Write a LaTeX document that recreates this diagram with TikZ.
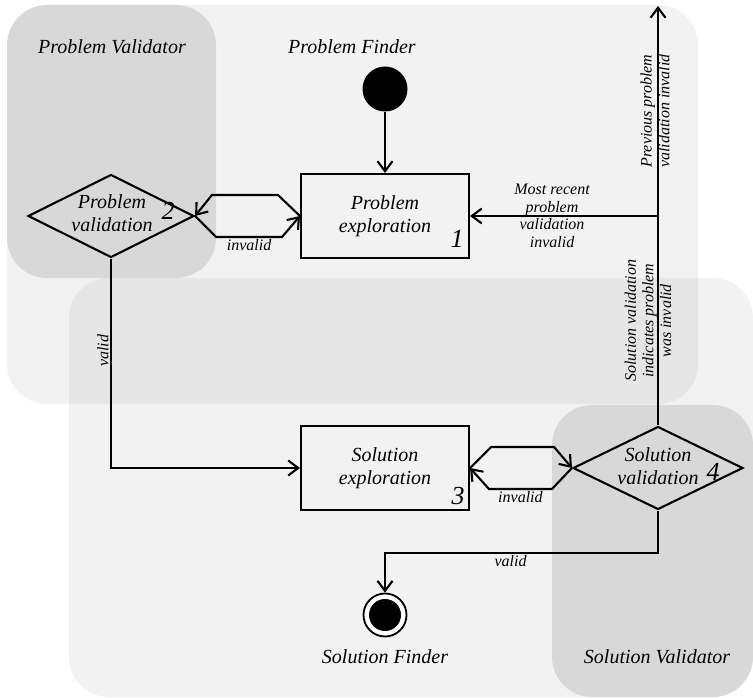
\documentclass[tikz,border=0pt]{standalone}
\usepackage{fontspec}
\setmainfont{Liberation Serif}[ItalicFont={Liberation Serif Italic}]
\usetikzlibrary{arrows.meta,shapes.geometric,calc}
\begin{document}
\begin{tikzpicture}[x=1pt,y=-1pt,
  lane/.style={fill=black, fill opacity=0.05, rounded corners=40pt},
  checker/.style={fill=black, fill opacity=0.105, rounded corners=40pt},
  flow/.style={line width=2.1pt, -{Straight Barb[length=10pt,width=15pt,line width=2.1pt]}},
  activity/.style={draw, line width=2.1pt, minimum width=168pt, minimum height=84pt, inner sep=0pt,
    font=\fontsize{20}{23}\selectfont\itshape, align=center},
  decision/.style={diamond, draw, line width=2.1pt, minimum height=83pt, inner sep=0pt},
  maintext/.style={font=\fontsize{20}{23}\selectfont\itshape, align=center, inner sep=0pt},
  lanetitle/.style={font=\fontsize{20}{23}\selectfont\itshape, inner sep=0pt},
  guard/.style={font=\fontsize{16}{17.6}\selectfont\itshape, align=center, inner sep=1.5pt},
  stepno/.style={font=\fontsize{26}{26}\selectfont\itshape, inner sep=0pt}
]
\useasboundingbox (0,0) rectangle (753,698);

% swimlane backgrounds
\fill[lane] (7,5) rectangle (698,404);
\fill[lane] (69,278) rectangle (753,697);
\fill[checker] (7,5) rectangle (216,278);
\fill[checker] (552,405) rectangle (753,697);

% lane titles
\node[lanetitle] (t-pv) at (112,47) {Problem Validator};
\node[lanetitle] (t-pf) at (352,47) {Problem Finder};
\node[lanetitle] (t-sf) at (385,657) {Solution Finder};
\node[lanetitle] (t-sv) at (657,657) {Solution Validator};

% initial and final states
\node[circle, fill=black, minimum size=45pt, inner sep=0pt] (start) at (385,89) {};
\node[circle, draw, fill=white, line width=1.8pt, minimum size=43pt, inner sep=0pt] (end) at (385,615) {};
\node[circle, fill=black, minimum size=32pt, inner sep=0pt] (endcore) at (end) {};

% activities
\node[activity] (pe) at (385,216) {Problem\\exploration};
\node[stepno] (pe-no) at (457,239) {1};
\node[activity] (se) at (385,468) {Solution\\exploration};
\node[stepno] (se-no) at (458,496) {3};

% decisions
\node[decision, minimum width=166pt] (pv) at (111,216) {};
\node[maintext] (pv-text) at (112,213) {Problem\\validation};
\node[stepno] (pv-no) at (168,211) {2};
\node[decision, minimum width=170pt] (sv) at (658,468) {};
\node[maintext] (sv-text) at (658,466) {Solution\\validation};
\node[stepno] (sv-no) at (713,472) {4};

% junction on the feedback line and its open end
\coordinate (jn) at (sv.north |- pe.east);
\coordinate (top) at (658,6);

% flows
\draw[flow] (start) -- (pe);
\draw[flow] (pe.west) -- ++(-22,-21) -- ++(-66,0) -- (pv.east);
\draw[flow] (pv.east) -- ++(21,21) -- node[guard, below] {invalid} ++(66,0) -- (pe.west);
\draw[flow] (pv.south) |- node[guard, pos=0.22, rotate=90, above] {valid} (se.west);
\draw[flow] (se.east) -- ++(21,-21) -- ++(63,0) -- (sv.west);
\draw[flow] (sv.west) -- ++(-20,21) -- node[guard, below] {invalid} ++(-63,0) -- (se.east);
\draw[flow] (sv.south) -- ++(0,42) -| node[guard, pos=0.27, below] {valid} (end.north);
\draw[flow] (sv.north) -- (top);
\draw[flow] (jn) -- (pe.east);

% feedback labels
\node[guard, rotate=90] (l-sol) at ($(sv.north)!0.5!(jn)+(-10,0)$) {Solution validation\\indicates problem\\was invalid};
\node[guard, rotate=90] (l-prev) at ($(jn)!0.5!(top)+(-3,0)$) {Previous problem\\validation invalid};
\node[guard] (l-recent) at ($(jn)!0.5!(pe.east)+(-12,0)$) {Most recent\\problem\\validation\\invalid};
\end{tikzpicture}
\end{document}
